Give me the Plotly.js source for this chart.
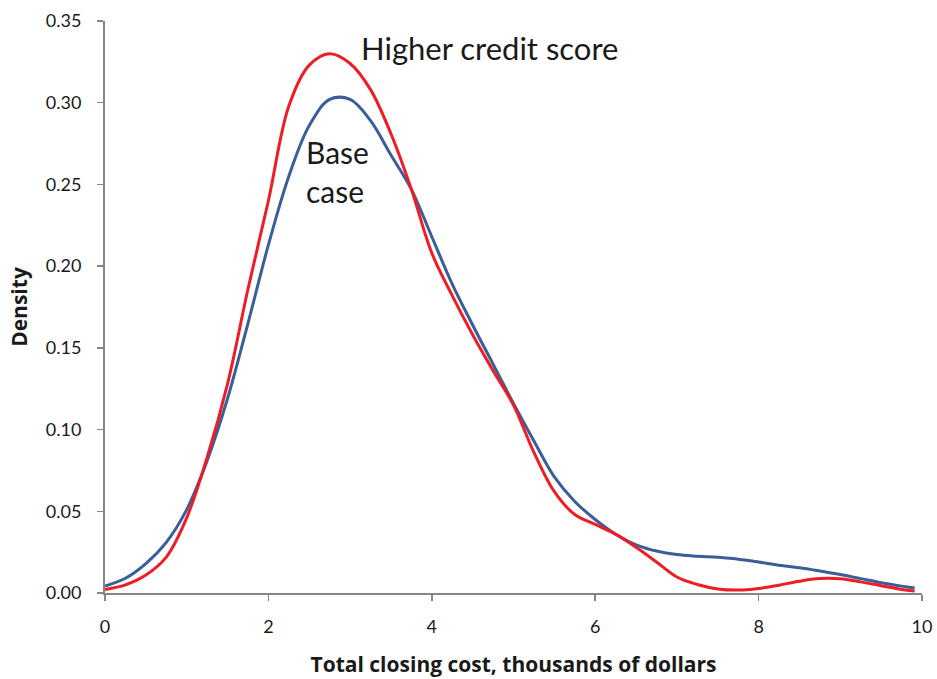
<!DOCTYPE html>
<html>
<head>
<meta charset="utf-8">
<script src="https://cdn.plot.ly/plotly-3.0.1.min.js"></script>
<style>html,body{margin:0;padding:0;background:#fff;}#chart{width:937px;height:679px;}</style>
</head>
<body>
<div id="chart"></div>
<script>
// Shared x grid (thousands of dollars)
var costX = [0, 0.25, 0.5, 0.75, 1.0, 1.25, 1.5, 1.75, 2.0, 2.25, 2.5, 2.75, 3.0, 3.25, 3.5, 3.75, 4.0, 4.25, 4.5, 4.75, 5.0, 5.25, 5.5, 5.75, 6.0, 6.25, 6.5, 6.75, 7.0, 7.25, 7.5, 7.75, 8.0, 8.25, 8.5, 8.75, 9.0, 9.25, 9.5, 9.75, 9.91];
// Base case density
var baseY = [0.0043, 0.009, 0.018, 0.031, 0.051, 0.081, 0.119, 0.165, 0.213, 0.255, 0.286, 0.302, 0.302, 0.289, 0.268, 0.247, 0.218, 0.189, 0.164, 0.140, 0.116, 0.093, 0.071, 0.056, 0.045, 0.036, 0.0295, 0.0257, 0.0235, 0.0225, 0.0218, 0.0207, 0.019, 0.017, 0.0155, 0.0135, 0.0113, 0.0088, 0.0063, 0.0042, 0.003];
// Higher credit score density
var highY = [0.0022, 0.005, 0.011, 0.022, 0.046, 0.083, 0.128, 0.186, 0.240, 0.298, 0.323, 0.330, 0.324, 0.308, 0.281, 0.247, 0.208, 0.182, 0.158, 0.136, 0.115, 0.086, 0.062, 0.048, 0.042, 0.036, 0.028, 0.019, 0.0098, 0.0052, 0.0025, 0.0018, 0.0028, 0.0048, 0.0072, 0.0088, 0.0087, 0.0068, 0.0045, 0.0022, 0.0012];
var xTicks = [0, 2, 4, 6, 8, 10];
var yTicks = [0, 0.05, 0.10, 0.15, 0.20, 0.25, 0.30, 0.35];
var labels = {high: "Higher credit score", base: "Base<br>case"};
var xTitle = "Total closing cost, thousands of dollars";
var yTitle = "Density";

var FONT = "Lato, 'Open Sans', sans-serif";
var TFONT = "'Open Sans', Lato, sans-serif";
var traces = [
  {x: costX, y: baseY, mode: "lines", line: {color: "#3A5F98", width: 3, shape: "spline", smoothing: 1}, hoverinfo: "skip"},
  {x: costX, y: highY, mode: "lines", line: {color: "#EE1C25", width: 3, shape: "spline", smoothing: 1}, hoverinfo: "skip"}
];
var axisCommon = {
  showgrid: false, zeroline: false, showline: true, linecolor: "#868686", linewidth: 2,
  ticks: "outside", ticklen: 6, tickcolor: "#868686", tickwidth: 1.5,
  tickfont: {family: FONT, size: 18, color: "#1a1a1a"}
};
var layout = {
  width: 937, height: 679,
  margin: {l: 105, r: 15, t: 21, b: 86},
  paper_bgcolor: "#fff", plot_bgcolor: "#fff",
  showlegend: false,
  xaxis: Object.assign({}, axisCommon, {
    range: [0, 10], tickvals: xTicks, ticktext: xTicks.map(String), ticklabelstandoff: 10,
    title: {text: "<b>" + xTitle + "</b>", font: {family: TFONT, size: 21, color: "#1a1a1a"}, standoff: 22}
  }),
  yaxis: Object.assign({}, axisCommon, {
    range: [0, 0.35], tickvals: yTicks, ticktext: yTicks.map(function(v){return v.toFixed(2);}), ticklabelstandoff: 12,
    title: {text: "<b>" + yTitle + "</b>", font: {family: TFONT, size: 21, color: "#1a1a1a"}, standoff: 12}
  }),
  annotations: [
    {x: 4.71, y: 0.3335, xref: "x", yref: "y", text: labels.high, showarrow: false, font: {family: FONT, size: 31, color: "#1a1a1a"}, xanchor: "center", yanchor: "middle"},
    {x: 2.43, y: 0.2577, xref: "x", yref: "y", text: labels.base, showarrow: false, align: "left", font: {family: FONT, size: 30, color: "#1a1a1a"}, xanchor: "left", yanchor: "middle"}
  ]
};
Plotly.newPlot("chart", traces, layout, {staticPlot: true, displayModeBar: false});
</script>
</body>
</html>
